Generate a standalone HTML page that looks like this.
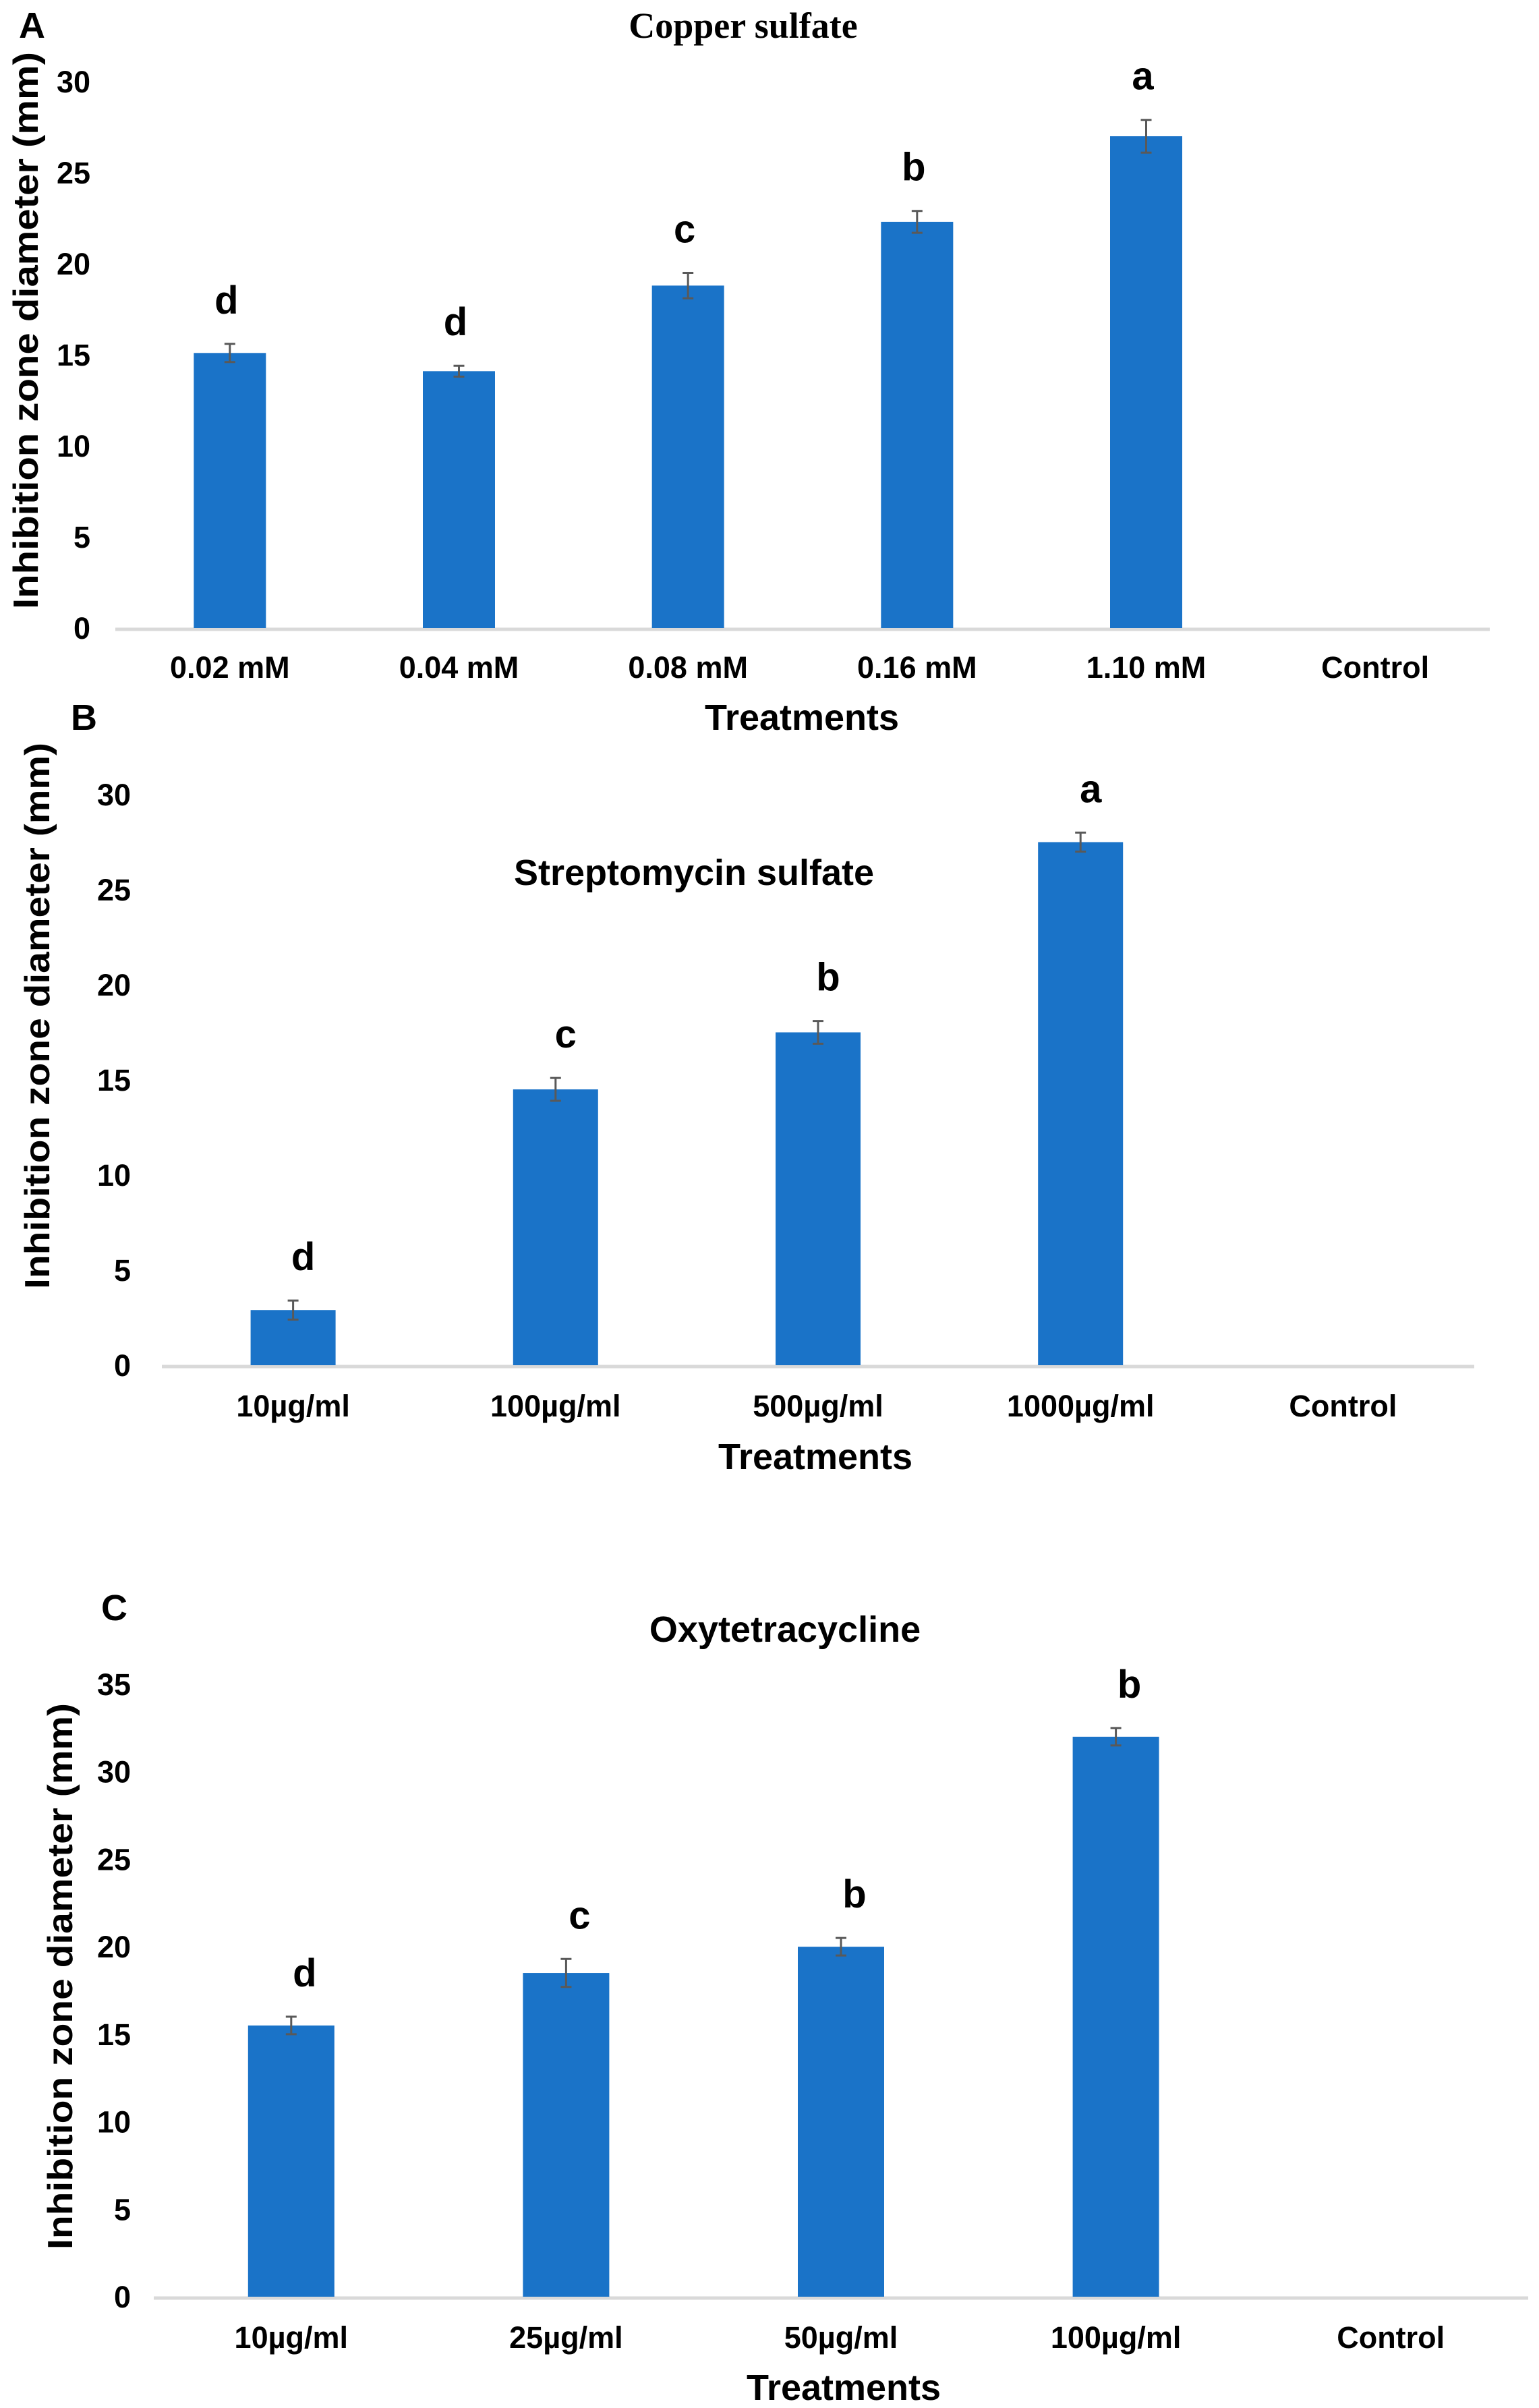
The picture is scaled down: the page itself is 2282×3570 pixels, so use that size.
<!DOCTYPE html>
<html><head><meta charset="utf-8"><style>
html,body{margin:0;padding:0;background:#fff;}
svg{display:block;font-family:"Liberation Sans",sans-serif;}
</style></head><body>
<svg id="fig" width="2282" height="3570" viewBox="0 0 2282 3570" xmlns="http://www.w3.org/2000/svg"></svg>
<script>
const catsA = ["0.02 mM","0.04 mM","0.08 mM","0.16 mM","1.10 mM","Control"];
const valsA = [15.1, 14.1, 18.8, 22.3, 27.0, null];
const errsA = [0.5, 0.3, 0.7, 0.6, 0.9, null];
const letsA = ["d","d","c","b","a",""];
const ticksA = [0,5,10,15,20,25,30];

const catsB = ["10µg/ml","100µg/ml","500µg/ml","1000µg/ml","Control"];
const valsB = [2.9, 14.5, 17.5, 27.5, null];
const errsB = [0.5, 0.6, 0.6, 0.5, null];
const letsB = ["d","c","b","a",""];
const ticksB = [0,5,10,15,20,25,30];

const catsC = ["10µg/ml","25µg/ml","50µg/ml","100µg/ml","Control"];
const valsC = [15.5, 18.5, 20.0, 32.0, null];
const errsC = [0.5, 0.8, 0.5, 0.5, null];
const letsC = ["d","c","b","b",""];
const ticksC = [0,5,10,15,20,25,30,35];

const NS = "http://www.w3.org/2000/svg";
const svg = document.getElementById("fig");
function mk(tag, attrs, parent){
  const e = document.createElementNS(NS, tag);
  for (const k in attrs) e.setAttribute(k, attrs[k]);
  (parent||svg).appendChild(e);
  return e;
}
function txt(s, attrs, parent){ const t = mk("text", attrs, parent); t.textContent = s; return t; }

function panel(cfg){
  const g = mk("g", {});
  
  
  const n = cfg.cats.length;
  const band = (cfg.x1 - cfg.x0) / n;
  const xc = i => cfg.x0 + band * (i + 0.5);
  const y = v => cfg.base - (cfg.base - cfg.top) * v / cfg.max;
  cfg.ticks.forEach(t => {
    const e = txt(String(t), {x: cfg.tickX, y: y(t) + 16, "text-anchor": "end", "font-size": 45, "font-weight": "bold", fill: "#000"}, g);
    
    
  });
  const ax = mk("line", {x1: cfg.x0, x2: cfg.x1, y1: cfg.base + 2, y2: cfg.base + 2, stroke: "#d9d9d9", "stroke-width": 5}, g);
  
  
  cfg.cats.forEach((c, i) => {
    const v = cfg.vals[i];
    if (v != null) {
      const b = mk("rect", {x: xc(i) - cfg.bw / 2, y: y(v), width: cfg.bw, height: cfg.base - y(v), fill: "#1a73c8"}, g);
      
      
      const e = cfg.errs[i];
      const eb = mk("path", {d: `M${xc(i)},${y(v+e)}V${y(v-e)}M${xc(i)-8},${y(v+e)}H${xc(i)+8}M${xc(i)-8},${y(v-e)}H${xc(i)+8}`, stroke: "#595959", "stroke-width": 3, fill: "none"}, g);
      
      
      const l = txt(cfg.lets[i], {x: xc(i) + (cfg.letDx||0), y: y(v + e) - cfg.letGap, "text-anchor": "middle", "font-size": 58, "font-weight": "bold"}, g);
      
      
    }
    const cl = txt(c, {x: xc(i), y: cfg.catY, "text-anchor": "middle", "font-size": 45, "font-weight": "bold"}, g);
    
    
  });
  const xt = txt("Treatments", {x: cfg.xtX, y: cfg.xtY, "text-anchor": "middle", "font-size": 54, "font-weight": "bold"}, g);
  
  
  const yt = txt("Inhibition zone diameter (mm)", {x: 0, y: 0, "text-anchor": "middle", "font-size": 52, "font-weight": "bold", textLength: cfg.ytLen, lengthAdjust: "spacingAndGlyphs", transform: `translate(${cfg.ytX},${cfg.ytY}) rotate(-90)`}, g);
  
  
  const tt = txt(cfg.title, {x: cfg.titleX, y: cfg.titleY, "text-anchor": "middle", "font-size": cfg.titleSize, "font-weight": "bold", "font-family": cfg.titleFont}, g);
  
  
  const pl = txt(cfg.letter, {x: cfg.pX, y: cfg.pY, "font-size": 54, "font-weight": "bold"}, g);
  
  
}

panel({name:"panel-a-copper-sulfate", cats:catsA, vals:valsA, errs:errsA, lets:letsA, ticks:ticksA, max:30,
  x0:171, x1:2209, base:931, top:121, bw:107, tickX:134, catY:1005, xtX:1189, xtY:1082,
  ytX:56, ytY:490, ytLen:826, title:"Copper sulfate", titleX:1102, titleY:56, titleSize:54,
  titleFont:'"Liberation Serif", serif', letter:"A", pX:28, pY:56, letGap:45, letDx:-5});
panel({name:"panel-b-streptomycin-sulfate", cats:catsB, vals:valsB, errs:errsB, lets:letsB, ticks:ticksB, max:30,
  x0:240, x1:2186, base:2024, top:1178, bw:126, tickX:194, catY:2100, xtX:1209, xtY:2178,
  ytX:73, ytY:1506, ytLen:810, title:"Streptomycin sulfate", titleX:1029, titleY:1312, titleSize:54,
  titleFont:'"Liberation Sans", sans-serif', letter:"B", pX:105, pY:1082, letGap:45, letDx:15});
panel({name:"panel-c-oxytetracycline", cats:catsC, vals:valsC, errs:errsC, lets:letsC, ticks:ticksC, max:35,
  x0:228, x1:2266, base:3405, top:2497, bw:128, tickX:194, catY:3481, xtX:1251, xtY:3558,
  ytX:107, ytY:2930, ytLen:810, title:"Oxytetracycline", titleX:1164, titleY:2434, titleSize:54,
  titleFont:'"Liberation Sans", sans-serif', letter:"C", pX:150, pY:2402, letGap:45, letDx:20});
</script>
</body></html>
